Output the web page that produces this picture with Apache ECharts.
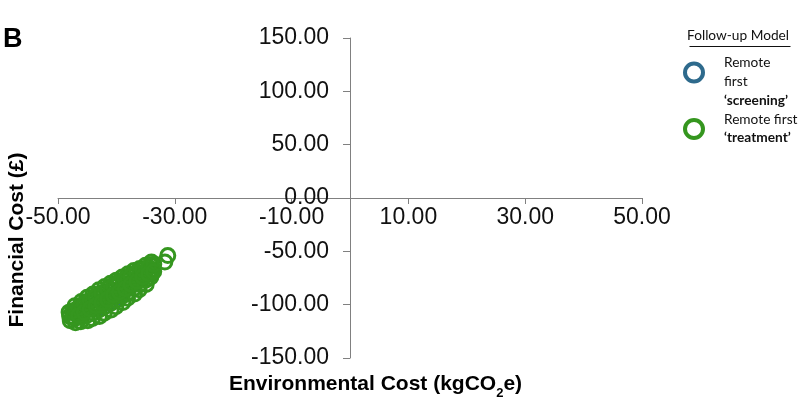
<!DOCTYPE html>
<html>
<head>
<meta charset="utf-8">
<script src="https://cdn.jsdelivr.net/npm/echarts@6/dist/echarts.min.js"></script>
<style>
  html, body { margin: 0; padding: 0; background: #fff; }
  #chart { width: 800px; height: 419px; }
</style>
</head>
<body>
<div id="chart"></div>
<script>
// 数据
const seriesNames = ['Remote first \u2018screening\u2019', 'Remote first \u2018treatment\u2019']
const xTicks = { min: -50, max: 50, interval: 20 }
const yTicks = { min: -150, max: 150, interval: 50 }

// [environmental cost, financial cost]
const screeningData = [
  [-45.5, -106], [-44.0, -101], [-42.2, -96], [-40.4, -91], [-38.6, -85],
  [-37.0, -80], [-43.2, -104], [-39.6, -93], [-41.3, -99], [-36.0, -76]
]
const treatmentData = [
  [-48.1, -107], [-48.0, -111], [-47.9, -115],
  [-47.1, -101], [-47.0, -105], [-46.9, -109], [-47.1, -113], [-47.0, -117],
  [-46.0, -97], [-46.1, -101], [-45.9, -106], [-46.0, -112], [-46.1, -116],
  [-45.0, -93], [-44.9, -98], [-45.1, -104], [-45.0, -110], [-44.9, -115],
  [-44.0, -90], [-44.1, -95], [-43.9, -102], [-44.0, -108], [-44.1, -113],
  [-43.0, -86], [-42.9, -92], [-43.1, -99], [-43.0, -105], [-42.9, -111],
  [-42.0, -83], [-42.1, -90], [-41.9, -96], [-42.0, -102], [-42.1, -108],
  [-41.0, -80], [-40.9, -86], [-41.1, -93], [-41.0, -99], [-40.9, -105],
  [-40.0, -77], [-40.1, -83], [-39.9, -89], [-40.0, -96], [-40.1, -102],
  [-39.0, -74], [-38.9, -80], [-39.1, -86], [-39.0, -92], [-38.9, -98],
  [-38.0, -71], [-38.1, -77], [-37.9, -83], [-38.0, -89], [-38.1, -94],
  [-37.0, -68], [-36.9, -73], [-37.1, -79], [-37.0, -85], [-36.9, -90],
  [-36.0, -66], [-36.1, -71], [-35.9, -76], [-36.0, -81], [-36.1, -86],
  [-35.0, -63], [-34.9, -68], [-35.1, -73], [-35.0, -77], [-34.9, -81],
  [-34.0, -60], [-34.1, -63], [-33.9, -67], [-34.0, -71], [-34.1, -74],
  [-47.5, -106], [-47.5, -112], [-46.5, -103], [-46.5, -110],
  [-45.5, -99], [-45.5, -107], [-44.5, -96], [-44.5, -104],
  [-43.5, -92], [-43.5, -101], [-42.5, -89], [-42.5, -98],
  [-41.5, -85], [-41.5, -95], [-40.5, -82], [-40.5, -91],
  [-39.5, -79], [-39.5, -88], [-38.5, -76], [-38.5, -85],
  [-37.5, -73], [-37.5, -81], [-36.5, -70], [-36.5, -78],
  [-35.5, -67], [-35.5, -74], [-34.5, -65], [-34.5, -71],
  [-33.6, -62], [-33.6, -69],
  [-31.7, -60], [-31.2, -54]
]

const blue = '#2E6A8C'
const green = '#35961F'
const axisFont = '"Liberation Sans", Arial, sans-serif'
const legendFont = 'Lato, "Open Sans", sans-serif'

const chart = echarts.init(document.getElementById('chart'), null, { renderer: 'canvas' })

const legendRich = {
  n: { fontFamily: legendFont, fontSize: 13.7, color: '#111', lineHeight: 19 },
  b: { fontFamily: legendFont, fontSize: 13.7, color: '#111', fontWeight: 'bold', lineHeight: 19 },
  n2: { fontFamily: legendFont, fontSize: 13.7, color: '#111', lineHeight: 18 },
  b2: { fontFamily: legendFont, fontSize: 13.7, color: '#111', fontWeight: 'bold', lineHeight: 18 }
}

// 网格区域：x 58–642，y 38–358；零点在 (350, 198)
const option = {
  animation: false,
  backgroundColor: '#fff',
  grid: { left: 58, right: 158, top: 38, bottom: 61, outerBoundsMode: 'none', containLabel: false },
  xAxis: {
    type: 'value',
    position: 'bottom',
    offset: -160,
    min: xTicks.min,
    max: xTicks.max,
    interval: xTicks.interval,
    splitLine: { show: false },
    axisLine: { onZero: false, lineStyle: { color: '#808080', width: 1 } },
    axisTick: { show: true, length: 6, lineStyle: { color: '#808080' } },
    axisLabel: {
      margin: 8,
      color: '#111',
      fontFamily: axisFont,
      fontSize: 23,
      hideOverlap: false,
      formatter: v => v.toFixed(2)
    }
  },
  yAxis: {
    type: 'value',
    position: 'left',
    offset: -292,
    min: yTicks.min,
    max: yTicks.max,
    interval: yTicks.interval,
    splitLine: { show: false },
    axisLine: { onZero: false, lineStyle: { color: '#808080', width: 1 } },
    axisTick: { show: true, length: 7, lineStyle: { color: '#808080' } },
    axisLabel: {
      margin: 21,
      color: '#111',
      fontFamily: axisFont,
      fontSize: 23,
      hideOverlap: false,
      formatter: v => v.toFixed(2)
    }
  },
  legend: [
    {
      data: [seriesNames[0]],
      orient: 'vertical',
      left: 683,
      top: 37,
      padding: 0,
      itemWidth: 18,
      itemHeight: 18,
      icon: 'circle',
      itemStyle: { color: '#fff', borderColor: blue, borderWidth: 4, opacity: 1 },
      formatter: () => '{n|}\n{n|Remote}\n{n|first}\n{b|\u2018screening\u2019}',
      textStyle: { padding: [0, 0, 0, 16], rich: legendRich }
    },
    {
      data: [seriesNames[1]],
      orient: 'vertical',
      left: 683,
      top: 113,
      padding: 0,
      itemWidth: 18,
      itemHeight: 18,
      icon: 'circle',
      itemStyle: { color: '#fff', borderColor: green, borderWidth: 4, opacity: 1 },
      formatter: () => '{n2|Remote first}\n{b2|\u2018treatment\u2019}',
      textStyle: { padding: [0, 0, 0, 16], rich: legendRich }
    }
  ],
  graphic: [
    {
      type: 'text', left: 3, top: 26,
      style: { text: 'B', font: 'bold 27px ' + axisFont, fill: '#000' }
    },
    {
      type: 'text', left: 687, top: 29,
      style: { text: 'Follow-up Model', font: '13.7px ' + legendFont, fill: '#111' }
    },
    {
      type: 'line', left: 687, top: 44,
      shape: { x1: 0, y1: 0, x2: 101, y2: 0 },
      style: { stroke: '#111', lineWidth: 1 }
    },
    {
      type: 'text', left: 229, top: 374,
      style: {
        text: '{a|Environmental Cost (kgCO}{s|2}{a|e)}',
        rich: {
          a: { font: 'bold 21px ' + axisFont, fill: '#000', verticalAlign: 'middle', lineHeight: 30 },
          s: { font: 'bold 13px ' + axisFont, fill: '#000', verticalAlign: 'bottom', lineHeight: 16 }
        }
      }
    },
    {
      type: 'text', x: 17, y: 240, rotation: Math.PI / 2,
      style: {
        text: 'Financial Cost (\u00a3)',
        font: 'bold 21px ' + axisFont,
        fill: '#000',
        align: 'center',
        verticalAlign: 'middle'
      }
    }
  ],
  series: [
    {
      name: seriesNames[0],
      type: 'scatter',
      z: 2,
      symbol: 'circle',
      symbolSize: 14,
      data: screeningData,
      itemStyle: { color: 'rgba(0,0,0,0)', borderColor: blue, borderWidth: 3, opacity: 1 },
      emphasis: { disabled: true }
    },
    {
      name: seriesNames[1],
      type: 'scatter',
      z: 3,
      symbol: 'circle',
      symbolSize: 14,
      data: treatmentData,
      itemStyle: { color: 'rgba(0,0,0,0)', borderColor: green, borderWidth: 3, opacity: 1 },
      emphasis: { disabled: true }
    }
  ]
}

chart.setOption(option)
</script>
</body>
</html>
